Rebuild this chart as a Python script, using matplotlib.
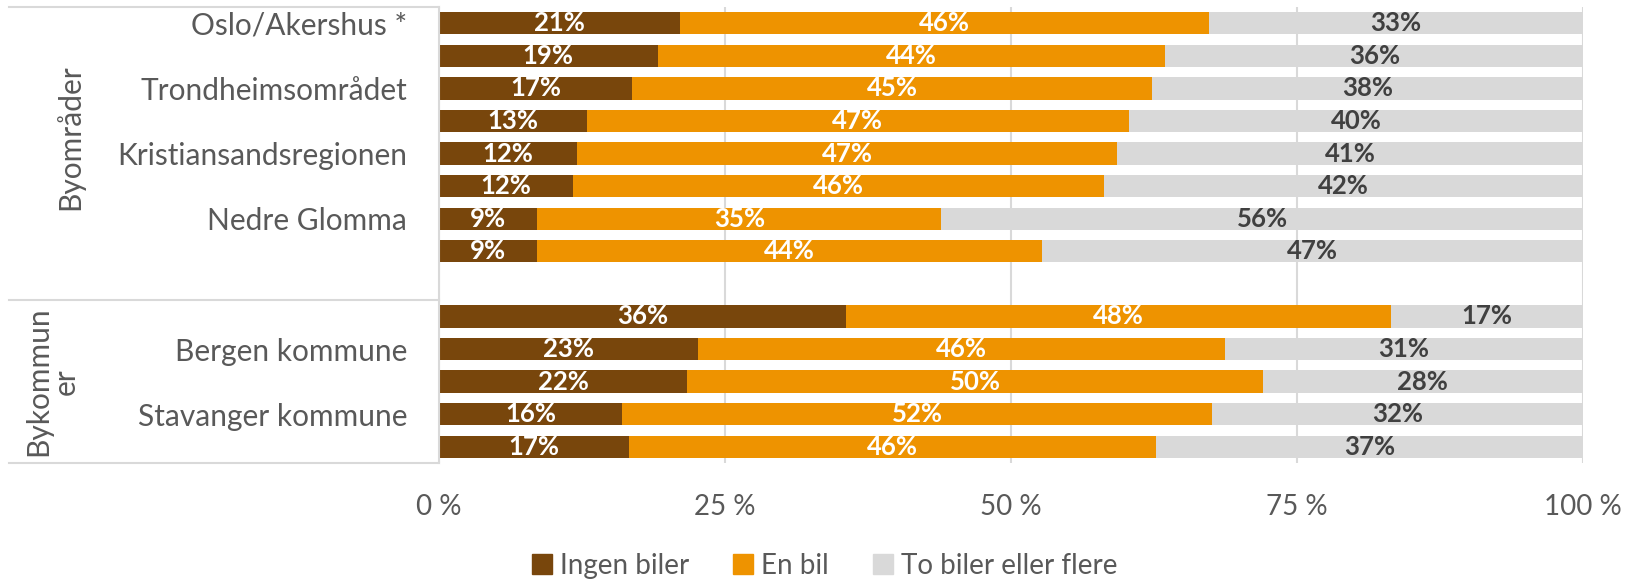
import matplotlib
matplotlib.use('Agg')
import matplotlib.pyplot as plt
from matplotlib.lines import Line2D
import numpy as np

plt.rcParams['font.family'] = ['Lato', 'DejaVu Sans']

# y-slots: 0..7 byområder, 8 tom, 9..13 bykommuner
categories = ['Oslo/Akershus *', '', 'Trondheimsområdet', '', 'Kristiansandsregionen', '',
              'Nedre Glomma', '', '', '', 'Bergen kommune', '', 'Stavanger kommune', '']
slots = [0, 1, 2, 3, 4, 5, 6, 7, 9, 10, 11, 12, 13]
ingen = [21.1, 19.1, 16.9, 12.9, 12.1, 11.7, 8.6, 8.6, 35.6, 22.6, 21.7, 16.0, 16.6]
en_bil = [46.2, 44.4, 45.4, 47.4, 47.2, 46.4, 35.3, 44.1, 47.6, 46.1, 50.3, 51.6, 46.1]
to_flere = [32.7, 36.5, 37.7, 39.7, 40.7, 41.9, 56.1, 47.3, 16.8, 31.3, 28.0, 32.4, 37.3]
series = ['Ingen biler', 'En bil', 'To biler eller flere']
groups = ['Byområder', 'Bykommun\ner']
ticks = [0, 25, 50, 75, 100]

colors = ['#78460C', '#EE9300', '#D9D9D9']
label_colors = ['white', 'white', '#404040']
grey_txt = '#595959'
line_c = '#D9D9D9'

fig = plt.figure(figsize=(16.4, 5.83), dpi=100)
ax = fig.add_axes([439 / 1640, 1 - 463 / 583, 1144 / 1640, 456 / 583])

y = np.array(slots)
left = np.zeros(len(slots))
for vals, c, tc in zip([ingen, en_bil, to_flere], colors, label_colors):
    vals = np.array(vals)
    ax.barh(y, vals, left=left, height=0.68, color=c, zorder=2)
    for yi, l, v in zip(y, left, vals):
        ax.text(l + v / 2, yi, f'{v:.0f}%', ha='center', va='center',
                color=tc, fontsize=18.5, fontweight='bold', zorder=3)
    left += vals

ax.set_xlim(0, 100)
ax.set_ylim(13.5, -0.5)
ax.set_xticks(ticks)
ax.set_xticklabels([f'{t} %' for t in ticks], fontsize=20, color=grey_txt)
ax.tick_params(axis='x', length=0, pad=22)
ax.set_yticks(range(len(categories)))
ax.set_yticklabels(categories, fontsize=21.5, color=grey_txt)
ax.tick_params(axis='y', length=0, pad=23)
ax.grid(axis='x', color=line_c, linewidth=1.5, zorder=0)
for s in ['top', 'right', 'bottom']:
    ax.spines[s].set_visible(False)
ax.spines['left'].set_color(line_c)
ax.spines['left'].set_linewidth(1.5)

# tabellinjer for gruppene
x0 = (9 - 439) / 1144
for yl in [-0.5, 8.5, 13.5]:
    ax.plot([x0, 0], [yl, yl], color=line_c, linewidth=1.5,
            transform=ax.get_yaxis_transform(), clip_on=False)
ax.text((70 - 439) / 1144, 3.5, groups[0], rotation=90, ha='center', va='center',
        fontsize=21.5, color=grey_txt, transform=ax.get_yaxis_transform())
ax.text((52 - 439) / 1144, 11.0, groups[1], rotation=90, ha='center', va='center',
        fontsize=21.5, color=grey_txt, transform=ax.get_yaxis_transform(),
        linespacing=1.0)

handles = [Line2D([], [], marker='s', linestyle='none', markersize=14, color=c) for c in colors]
leg = fig.legend(handles, series, loc='center', bbox_to_anchor=(0.503, 1 - 566 / 583),
                 ncol=3, frameon=False, fontsize=20, handlelength=0.7,
                 handletextpad=0.3, columnspacing=1.6)
for t in leg.get_texts():
    t.set_color(grey_txt)

fig.savefig('out.png', dpi=100)
